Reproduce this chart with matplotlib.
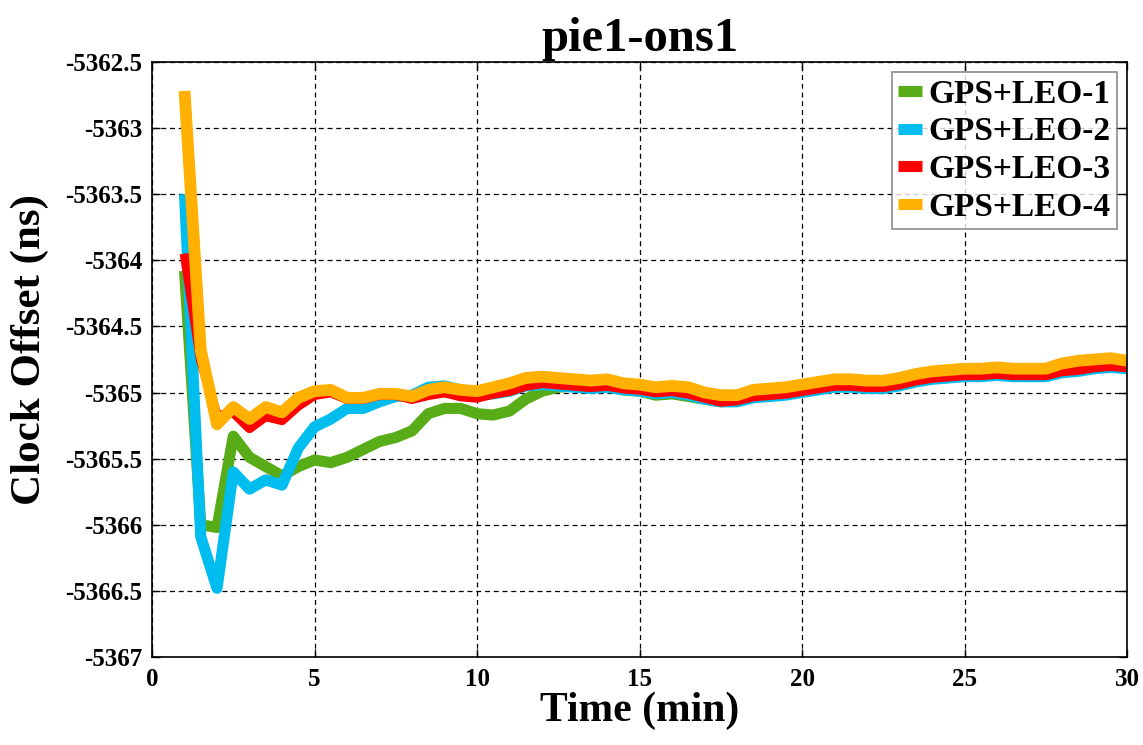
import matplotlib
matplotlib.use("Agg")
import matplotlib.pyplot as plt
import numpy as np
from matplotlib.ticker import FuncFormatter

time_min = np.arange(1.0, 30.01, 0.5)

leo1 = [-5364.08, -5366.0, -5366.02, -5365.33, -5365.49, -5365.56, -5365.63, -5365.56, -5365.51, -5365.53,
        -5365.49, -5365.43, -5365.37, -5365.34, -5365.29, -5365.16, -5365.12, -5365.12, -5365.16, -5365.17,
        -5365.14, -5365.05, -5364.99, -5364.96, -5364.95, -5364.96, -5364.95, -5364.98, -5364.99, -5365.02,
        -5365.01, -5365.03, -5365.05, -5365.07, -5365.06, -5365.03, -5365.02, -5365.01, -5364.99, -5364.97,
        -5364.95, -5364.95, -5364.96, -5364.96, -5364.94, -5364.91, -5364.89, -5364.88, -5364.87, -5364.87,
        -5364.86, -5364.87, -5364.87, -5364.87, -5364.84, -5364.83, -5364.81, -5364.80, -5364.81]

leo2 = [-5363.50, -5366.09, -5366.48, -5365.60, -5365.73, -5365.66, -5365.70, -5365.42, -5365.26, -5365.20,
        -5365.12, -5365.12, -5365.07, -5365.03, -5365.02, -5364.96, -5364.95, -5364.98, -5365.02, -5365.01,
        -5364.99, -5364.95, -5364.94, -5364.95, -5364.96, -5364.97, -5364.96, -5364.98, -5364.99, -5365.01,
        -5365.00, -5365.02, -5365.05, -5365.07, -5365.07, -5365.04, -5365.03, -5365.02, -5365.00, -5364.98,
        -5364.96, -5364.96, -5364.97, -5364.97, -5364.95, -5364.92, -5364.90, -5364.89, -5364.88, -5364.88,
        -5364.87, -5364.88, -5364.88, -5364.88, -5364.85, -5364.84, -5364.82, -5364.81, -5364.82]

leo3 = [-5363.95, -5364.75, -5365.18, -5365.15, -5365.27, -5365.18, -5365.21, -5365.10, -5365.02, -5365.00,
        -5365.05, -5365.05, -5365.02, -5365.02, -5365.05, -5365.02, -5365.00, -5365.03, -5365.04, -5365.01,
        -5364.99, -5364.95, -5364.93, -5364.94, -5364.95, -5364.96, -5364.95, -5364.97, -5364.98, -5365.00,
        -5364.99, -5365.01, -5365.04, -5365.07, -5365.06, -5365.03, -5365.02, -5365.01, -5364.99, -5364.97,
        -5364.95, -5364.95, -5364.96, -5364.96, -5364.94, -5364.91, -5364.89, -5364.88, -5364.87, -5364.87,
        -5364.86, -5364.87, -5364.87, -5364.87, -5364.84, -5364.83, -5364.81, -5364.80, -5364.81]

leo4 = [-5362.72, -5364.68, -5365.24, -5365.11, -5365.20, -5365.11, -5365.15, -5365.04, -5364.99, -5364.98,
        -5365.04, -5365.04, -5365.01, -5365.01, -5365.03, -5364.98, -5364.96, -5364.98, -5364.99, -5364.96,
        -5364.93, -5364.89, -5364.88, -5364.89, -5364.90, -5364.91, -5364.90, -5364.93, -5364.94, -5364.96,
        -5364.95, -5364.96, -5365.00, -5365.02, -5365.02, -5364.98, -5364.97, -5364.96, -5364.94, -5364.92,
        -5364.90, -5364.90, -5364.91, -5364.91, -5364.89, -5364.86, -5364.84, -5364.83, -5364.82, -5364.82,
        -5364.81, -5364.82, -5364.82, -5364.82, -5364.78, -5364.76, -5364.75, -5364.74, -5364.76]

labels = ["GPS+LEO-1", "GPS+LEO-2", "GPS+LEO-3", "GPS+LEO-4"]
colors = ["#58AC17", "#00BDF0", "#FF0000", "#FFB000"]
series = [leo1, leo2, leo3, leo4]
widths = [8.0, 8.0, 7.0, 8.5]

plt.rcParams['font.family'] = ['Liberation Serif', 'DejaVu Serif']
plt.rcParams['font.weight'] = 'bold'

fig = plt.figure(figsize=(11.43, 7.45), dpi=100)
ax = fig.add_axes([0.133, 0.118, 0.853, 0.799])

for y, c, lab, lw in zip(series, colors, labels, widths):
    ax.plot(time_min, y, color=c, lw=lw, label=lab, solid_joinstyle='round', solid_capstyle='butt')

ax.set_xlim(0, 30)
ax.set_ylim(-5367, -5362.5)
ax.set_xticks(np.arange(0, 31, 5))
ax.set_yticks(np.arange(-5367, -5362.4, 0.5))
ax.yaxis.set_major_formatter(FuncFormatter(lambda v, p: ('%g' % v)))
ax.grid(True, color='black', linestyle=(0, (4, 3)), linewidth=0.9)
ax.tick_params(direction='in', length=6, width=1, top=True, right=True, labelsize=18)
ax.tick_params(axis='x', pad=8)
ax.tick_params(axis='y', pad=7)
for lab in ax.get_xticklabels() + ax.get_yticklabels():
    lab.set_fontweight('bold')
for sp in ax.spines.values():
    sp.set_linewidth(1.2)

ax.set_title('pie1-ons1', fontsize=35, fontweight='bold', pad=8)
ax.set_xlabel('Time (min)', fontsize=30, fontweight='bold', labelpad=0)
ax.set_ylabel('Clock Offset (ns)', fontsize=31, fontweight='bold')
ax.yaxis.set_label_coords(-0.106, 0.517)

leg = ax.legend(loc='upper right', fontsize=24, frameon=True, fancybox=False,
                handlelength=0.7, handletextpad=0.2, borderpad=0.2, labelspacing=0.2,
                borderaxespad=0.3, edgecolor='#707070')
leg.get_frame().set_linewidth(1.2)
for t in leg.get_texts():
    t.set_fontweight('bold')
for h in leg.get_lines():
    h.set_linewidth(8)

fig.savefig('out.png', dpi=100)
